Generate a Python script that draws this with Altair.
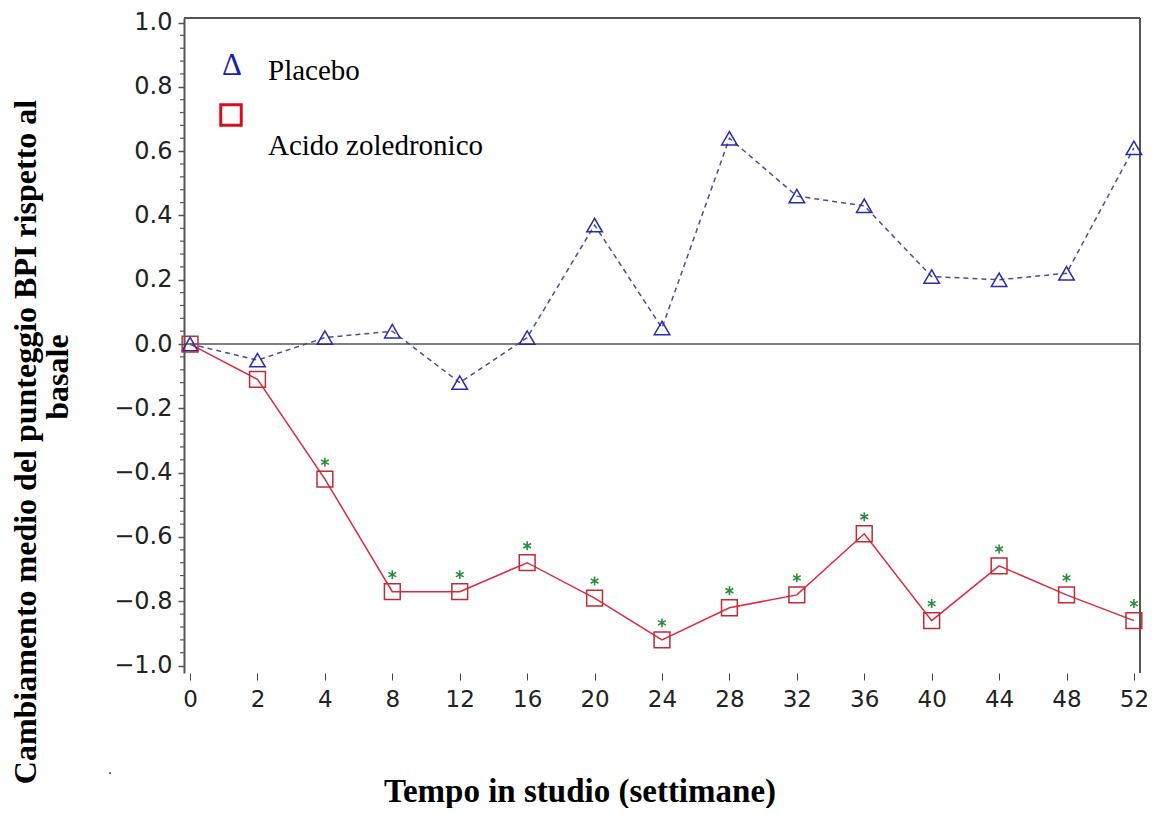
import altair as alt
import pandas as pd

weeks = ["0", "2", "4", "8", "12", "16", "20", "24", "28", "32", "36", "40", "44", "48", "52"]
placebo = [0.0, -0.05, 0.02, 0.04, -0.12, 0.02, 0.37, 0.05, 0.64, 0.46, 0.43, 0.21, 0.20, 0.22, 0.61]
zoledronico = [0.0, -0.11, -0.42, -0.77, -0.77, -0.68, -0.79, -0.92, -0.82, -0.78, -0.59, -0.86, -0.69, -0.78, -0.86]
significant = [False, False, True, True, True, True, True, True, True, True, True, True, True, True, True]
y_major = [-1.0, -0.8, -0.6, -0.4, -0.2, 0.0, 0.2, 0.4, 0.6, 0.8, 1.0]
y_minor = [round(-1.0 + 0.04 * i, 2) for i in range(51) if i % 5 != 0]

W, H = 956, 655

df_p = pd.DataFrame({"week": weeks, "value": placebo})
df_z = pd.DataFrame({"week": weeks, "value": zoledronico, "sig": significant})
df_sig = df_z[df_z["sig"]]

xscale = alt.Scale(type="point", padding=0.09)
yscale = alt.Scale(domain=[-1.023, 1.014], nice=False, zero=False)

x_enc = alt.X(
    "week:O", sort=weeks, scale=xscale,
    axis=alt.Axis(title=None, labelAngle=0, domain=False, tickSize=7, tickColor="#444",
                  tickWidth=1, labelFont="DejaVu Sans", labelFontSize=23, labelColor="#222",
                  labelPadding=8, grid=False),
)
y_enc = alt.Y(
    "value:Q", scale=yscale,
    axis=alt.Axis(title=None, values=y_major, format=".1f", domain=True, domainColor="#555",
                  domainWidth=2, tickSize=6, tickColor="#555", tickWidth=1.5,
                  labelFont="DejaVu Sans", labelFontSize=24, labelColor="#222",
                  labelPadding=6, grid=False),
)

one = pd.DataFrame({"a": [0]})

zero_rule = alt.Chart(pd.DataFrame({"value": [0.0]})).mark_rule(
    color="#555", strokeWidth=1.5).encode(y=alt.Y("value:Q", scale=yscale))

frame_top = alt.Chart(one).mark_rule(color="#555", strokeWidth=2).encode(
    x=alt.value(0), x2=alt.value(W), y=alt.value(0))
frame_right = alt.Chart(one).mark_rule(color="#555", strokeWidth=2).encode(
    x=alt.value(W), y=alt.value(0), y2=alt.value(H))

minor = alt.Chart(pd.DataFrame({"value": y_minor})).mark_rule(
    color="#555", strokeWidth=1.2).encode(
    y=alt.Y("value:Q", scale=yscale), x=alt.value(-4), x2=alt.value(0))

line_p = alt.Chart(df_p).mark_line(color="#4b4b9b", strokeDash=[5, 4], strokeWidth=1.5).encode(
    x=x_enc, y=y_enc)
line_z = alt.Chart(df_z).mark_line(color="#e0283c", strokeWidth=1.5).encode(
    x=x_enc, y=y_enc)
pts_p = alt.Chart(df_p).mark_point(shape="triangle-up", size=240, filled=False,
                                   color="#2a2aaa", strokeWidth=1.5, opacity=1).encode(x=x_enc, y=y_enc)
pts_z = alt.Chart(df_z).mark_point(shape="square", size=250, filled=False,
                                   color="#c02b35", strokeWidth=1.5, opacity=1).encode(x=x_enc, y=y_enc)
asterisk = "M0,-1L0,1M-0.87,-0.5L0.87,0.5M-0.87,0.5L0.87,-0.5"
stars = alt.Chart(df_sig).mark_point(shape=asterisk, size=80, filled=False, color="#2d8b3c",
                                     strokeWidth=1.6, opacity=1, yOffset=-17).encode(x=x_enc, y=y_enc)

serif = "Liberation Serif"
leg_tri = alt.Chart(one).mark_text(text="Δ", font=serif, fontSize=31, color="#1c1cb0",
                                   align="center", baseline="alphabetic").encode(
    x=alt.value(48), y=alt.value(57))
leg_sq = alt.Chart(one).mark_point(shape="square", size=420, filled=False, color="#d41020",
                                   strokeWidth=3, opacity=1).encode(x=alt.value(47), y=alt.value(97))
leg_t1 = alt.Chart(one).mark_text(text="Placebo", font=serif, fontSize=29, color="black",
                                  align="left", baseline="alphabetic").encode(
    x=alt.value(84), y=alt.value(62))
leg_t2 = alt.Chart(one).mark_text(text="Acido zoledronico", font=serif, fontSize=29, color="black",
                                  align="left", baseline="alphabetic").encode(
    x=alt.value(84), y=alt.value(137))

ytitle1 = alt.Chart(one).mark_text(text="Cambiamento  medio del punteggio BPI rispetto al",
                                   font=serif, fontSize=32, fontWeight="bold", color="black",
                                   angle=270, align="center", baseline="alphabetic").encode(
    x=alt.value(-148), y=alt.value(424))
ytitle2 = alt.Chart(one).mark_text(text="basale", font=serif, fontSize=32, fontWeight="bold",
                                   color="black", angle=270, align="center",
                                   baseline="alphabetic").encode(
    x=alt.value(-116), y=alt.value(359))
xtitle = alt.Chart(one).mark_text(text="Tempo in studio (settimane)", font=serif, fontSize=33,
                                  fontWeight="bold", color="black", align="center",
                                  baseline="alphabetic").encode(
    x=alt.value(396), y=alt.value(784))
dot = alt.Chart(one).mark_text(text=".", font=serif, fontSize=14, color="black",
                               align="center", baseline="alphabetic").encode(
    x=alt.value(-74), y=alt.value(756))

chart = alt.layer(
    zero_rule, frame_top, frame_right, minor,
    line_p, line_z, pts_p, pts_z, stars,
    leg_tri, leg_sq, leg_t1, leg_t2,
    ytitle1, ytitle2, xtitle, dot,
).properties(
    width=W, height=H,
    autosize=alt.AutoSizeParams(type="none"),
    padding={"left": 176, "top": 10, "right": 10, "bottom": 135},
).configure_view(strokeWidth=0)

chart.save("out.html", embed_options={"renderer": "svg", "actions": False})
